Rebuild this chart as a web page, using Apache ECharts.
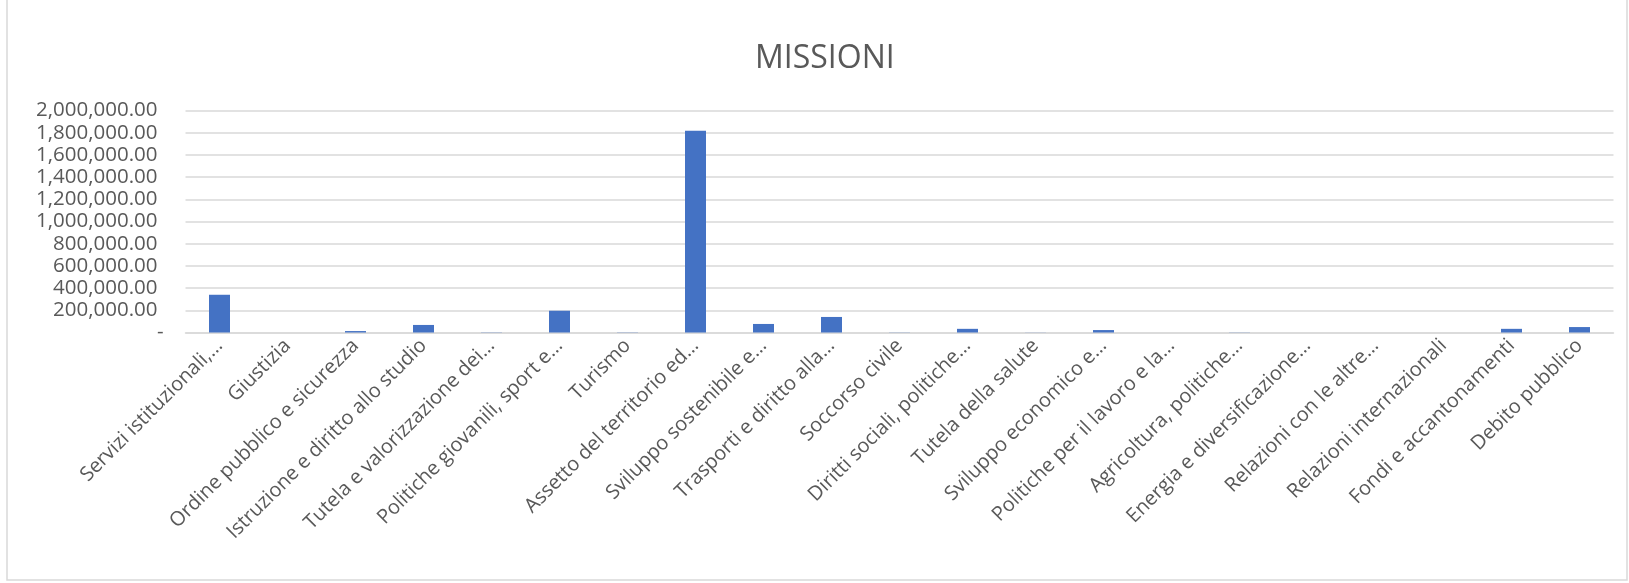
<!DOCTYPE html>
<html>
<head>
<meta charset="utf-8">
<script src="https://cdn.jsdelivr.net/npm/echarts@6/dist/echarts.min.js"></script>
<style>
html,body{margin:0;padding:0;background:#fff;}
#chart{width:1629px;height:583px;}
</style>
</head>
<body>
<div id="chart"></div>
<script>
const titleText = "MISSIONI";
const categories = [
  "Servizi istituzionali,…",
  "Giustizia",
  "Ordine pubblico e sicurezza",
  "Istruzione e diritto allo studio",
  "Tutela e valorizzazione dei…",
  "Politiche giovanili, sport e…",
  "Turismo",
  "Assetto del territorio ed…",
  "Sviluppo sostenibile e…",
  "Trasporti e diritto alla…",
  "Soccorso civile",
  "Diritti sociali, politiche…",
  "Tutela della salute",
  "Sviluppo economico e…",
  "Politiche per il lavoro e la…",
  "Agricoltura, politiche…",
  "Energia e diversificazione…",
  "Relazioni con le altre…",
  "Relazioni internazionali",
  "Fondi e accantonamenti",
  "Debito pubblico"
];
const values = [
  340000, 0, 13000, 68000, 2000, 196000, 2000, 1818000, 77000, 140000,
  1500, 33000, 1000, 22000, 0, 1500, 0, 0, 0, 33000, 49000
];
const yTicks = { min: 0, max: 2000000, interval: 200000 };

const chart = echarts.init(document.getElementById('chart'));
const txt = '#595959';
chart.setOption({
  animation: false,
  backgroundColor: '#ffffff',
  title: {
    text: titleText,
    left: 750,
    top: 38,
    textStyle: { fontFamily: 'Open Sans', fontSize: 32, fontWeight: 'normal', color: txt }
  },
  graphic: [{
    type: 'rect',
    shape: { x: 7, y: -2, width: 1620, height: 582 },
    style: { fill: 'none', stroke: '#d9d9d9', lineWidth: 1.5 },
    silent: true
  }],
  grid: { left: 185.5, right: 15.5, top: 110.5, bottom: 250.5, containLabel: false },
  xAxis: {
    type: 'category',
    data: categories,
    axisLine: { show: true, lineStyle: { color: '#d9d9d9', width: 1.5 } },
    axisTick: { show: false },
    axisLabel: {
      interval: 0, rotate: 45, margin: 10,
      fontFamily: 'Open Sans', fontSize: 20, color: txt
    }
  },
  yAxis: {
    type: 'value',
    min: yTicks.min, max: yTicks.max, interval: yTicks.interval,
    axisLine: { show: false },
    axisTick: { show: false },
    splitLine: { lineStyle: { color: '#d9d9d9', width: 1.5 } },
    axisLabel: {
      margin: 22,
      fontFamily: 'Open Sans', fontSize: 20.5, color: txt,
      rich: { n: { fontFamily: 'Open Sans', fontSize: 20.5, color: txt, padding: [0, 6, 0, 0] } },
      formatter: function (v) {
        if (v === 0) return '-';
        return '{n|' + v.toLocaleString('en-US', { minimumFractionDigits: 2, maximumFractionDigits: 2 }) + '}';
      }
    }
  },
  series: [{
    type: 'bar',
    data: values,
    barWidth: 21,
    itemStyle: { color: '#4472C4' }
  }]
});
</script>
</body>
</html>
